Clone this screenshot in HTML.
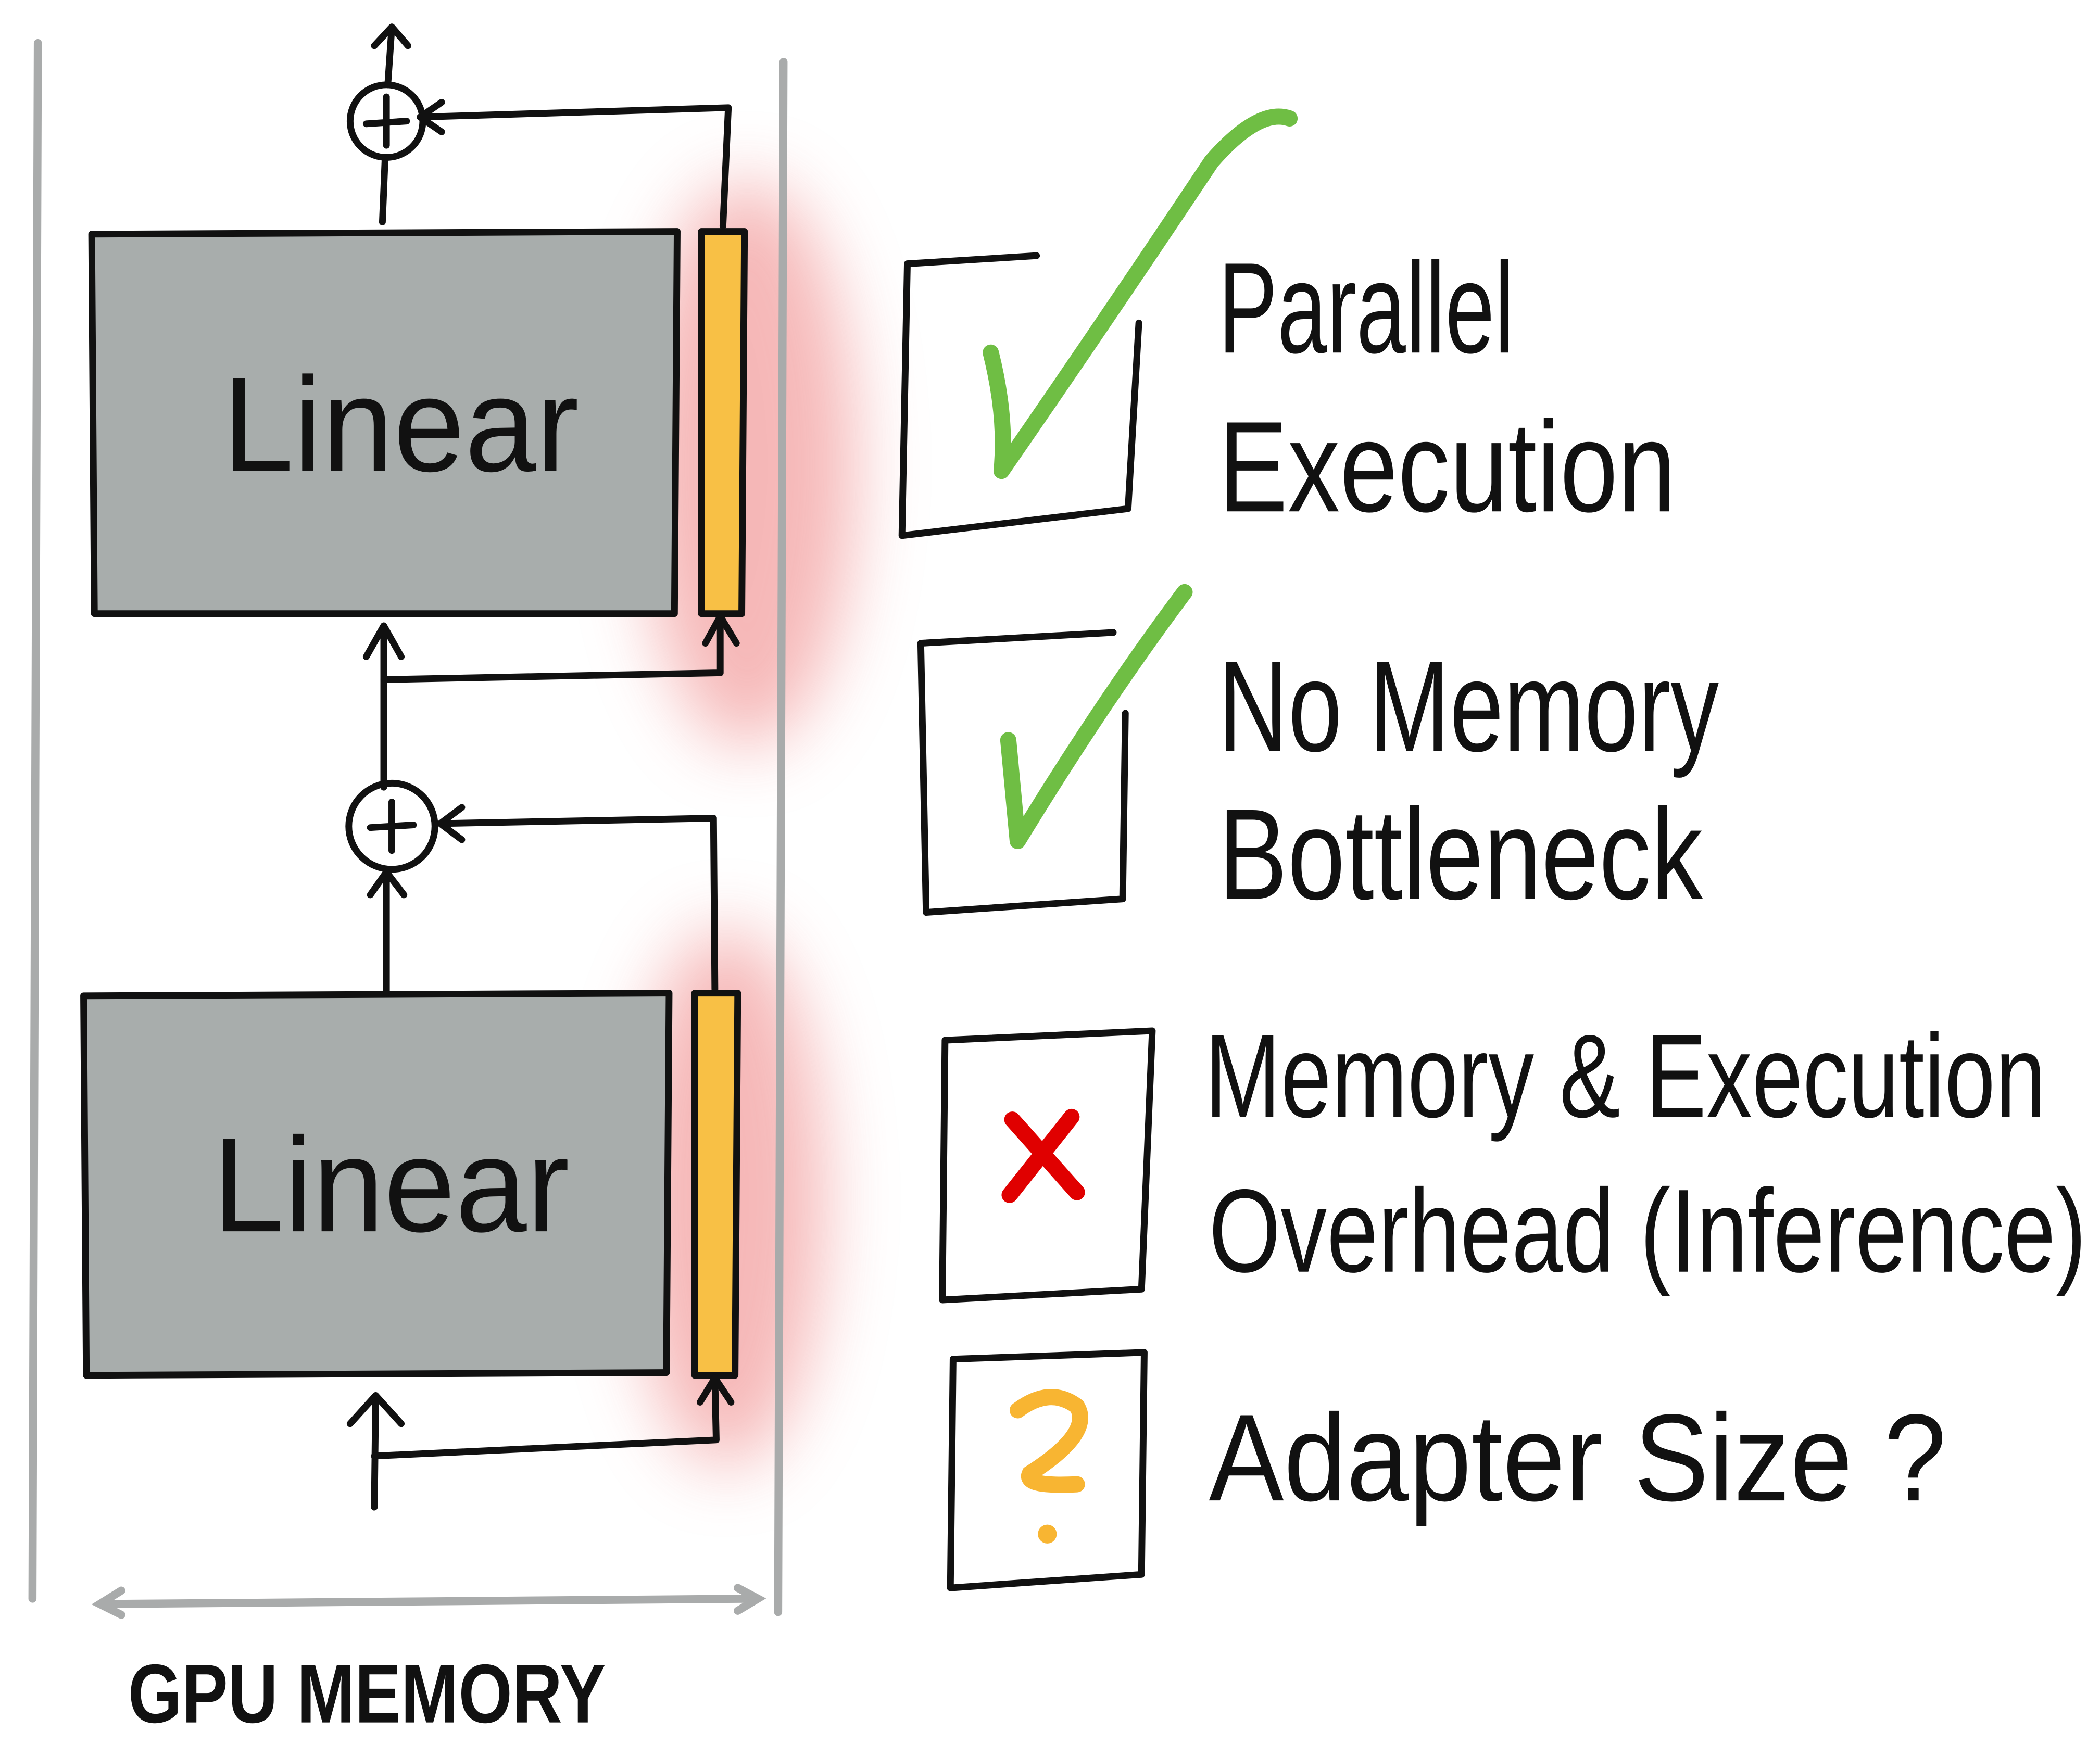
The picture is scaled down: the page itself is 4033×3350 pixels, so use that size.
<!DOCTYPE html>
<html><head><meta charset="utf-8"><style>
html,body{margin:0;padding:0;background:#fff;}
svg{display:block;}
text{font-family:"Liberation Sans",sans-serif;fill:#111;}
</style></head><body>
<svg width="4033" height="3350" viewBox="0 0 1560 1296" xmlns="http://www.w3.org/2000/svg">
<defs>
<filter id="blur" x="-80%" y="-50%" width="260%" height="200%"><feGaussianBlur stdDeviation="26"/></filter>
</defs>
<rect width="1560" height="1296" fill="#fff"/>
<!-- glows -->
<ellipse cx="555" cy="345" rx="80" ry="210" fill="#f29a9a" opacity="0.7" filter="url(#blur)"/>
<ellipse cx="540" cy="890" rx="72" ry="200" fill="#f29a9a" opacity="0.7" filter="url(#blur)"/>
<!-- gray memory lines -->
<g stroke="#a9abab" stroke-width="6" fill="none" stroke-linecap="round">
<path d="M28 32 L24 1188"/>
<path d="M582 46 L578 1198"/>
<path d="M75 1192 L562 1188"/>
<path d="M90 1182 L74 1192 L90 1200"/>
<path d="M548 1180 L563 1188 L548 1197"/>
</g>
<text x="95" y="1280" font-size="62" font-weight="bold" textLength="355" lengthAdjust="spacingAndGlyphs">GPU MEMORY</text>
<!-- boxes -->
<g stroke="#111" stroke-width="5" stroke-linejoin="round">
<path d="M68 174 L503 172 L501 456 L70 456 Z" fill="#a8adac"/>
<path d="M521 172 L553 172 L551 456 L521 456 Z" fill="#f8c045"/>
<path d="M62 740 L497 738 L495 1020 L64 1022 Z" fill="#a8adac"/>
<path d="M516 738 L548 738 L546 1022 L516 1022 Z" fill="#f8c045"/>
</g>
<text x="165" y="350" font-size="100" textLength="265" lengthAdjust="spacingAndGlyphs">Linear</text>
<text x="158" y="915" font-size="100" textLength="265" lengthAdjust="spacingAndGlyphs">Linear</text>
<!-- connectors -->
<g stroke="#111" stroke-width="5" fill="none" stroke-linecap="round" stroke-linejoin="round">
<circle cx="287" cy="90" r="27"/>
<path d="M287 72 L287 108 M272 92 L302 90"/>
<path d="M284 165 L286 117"/>
<path d="M288 63 L291 20 M278 34 L291 20 L303 34"/>
<path d="M537 168 L541 80 L312 87 M328 76 L312 87 L328 98"/>
<path d="M285 585 L285 465 M272 488 L285 465 L298 488"/>
<path d="M285 505 L535 500 L535 460 M524 478 L535 458 L547 478"/>
<circle cx="291" cy="614" r="32"/>
<path d="M291 596 L291 632 M275 615 L307 613"/>
<path d="M287 738 L287 648 M275 665 L287 648 L300 665"/>
<path d="M531 735 L530 608 L327 612 M343 600 L327 612 L343 624"/>
<path d="M278 1120 L279 1037 M260 1058 L279 1037 L298 1058"/>
<path d="M278 1082 L532 1070 L531 1024 M520 1042 L531 1024 L543 1042"/>
</g>
<!-- checkboxes -->
<g stroke="#111" stroke-width="5" fill="none" stroke-linecap="round" stroke-linejoin="round">
<path d="M770 190 L674 196 L670 398 L838 378 L846 240"/>
<path d="M827 470 L684 478 L688 678 L834 668 L836 530"/>
<path d="M702 773 L856 766 L848 958 L700 966 Z"/>
<path d="M708 1010 L850 1005 L848 1170 L706 1180 Z"/>
</g>
<g stroke="#6fbe44" stroke-width="12" fill="none" stroke-linecap="round" stroke-linejoin="round">
<path d="M736 262 Q748 310 744 350 Q820 240 900 120 Q935 80 958 88"/>
<path d="M749 550 L756 625 Q820 520 880 440"/>
</g>
<path d="M752 832 L800 886 M796 830 L750 888" stroke="#e00000" stroke-width="12" stroke-linecap="round" fill="none"/>
<path d="M756 1048 Q780 1030 800 1045 Q812 1065 765 1095 Q760 1105 800 1103" stroke="#f8b532" stroke-width="12" stroke-linecap="round" fill="none"/>
<circle cx="778" cy="1140" r="7" fill="#f8b532"/>
<!-- labels -->
<text x="905" y="262" font-size="96" textLength="220" lengthAdjust="spacingAndGlyphs">Parallel</text>
<text x="905" y="380" font-size="96" textLength="340" lengthAdjust="spacingAndGlyphs">Execution</text>
<text x="905" y="558" font-size="96" textLength="372" lengthAdjust="spacingAndGlyphs">No Memory</text>
<text x="905" y="668" font-size="96" textLength="360" lengthAdjust="spacingAndGlyphs">Bottleneck</text>
<text x="895" y="830" font-size="88" textLength="625" lengthAdjust="spacingAndGlyphs">Memory &amp; Execution</text>
<text x="898" y="945" font-size="88" textLength="652" lengthAdjust="spacingAndGlyphs">Overhead (Inference)</text>
<text x="898" y="1115" font-size="92" textLength="548" lengthAdjust="spacingAndGlyphs">Adapter Size ?</text>
</svg>
</body></html>
